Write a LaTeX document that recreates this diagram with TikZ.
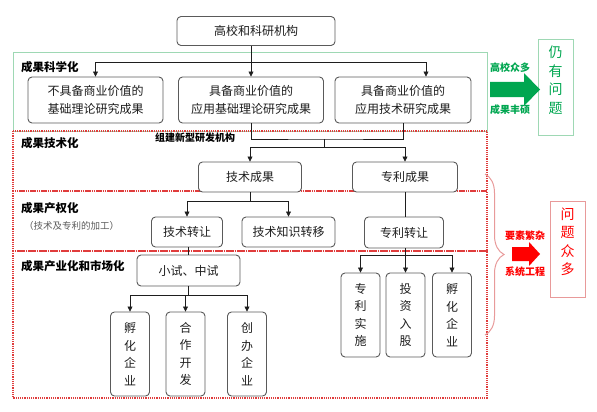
\documentclass[tikz,border=0pt]{standalone}
\usepackage{fontspec}
\setmainfont{Noto Sans CJK SC}
\usetikzlibrary{arrows.meta,decorations.pathreplacing}
\definecolor{ink}{HTML}{1E1E1E}
\definecolor{frame}{HTML}{5A5A5A}
\definecolor{leaf}{HTML}{00A650}
\definecolor{mint}{HTML}{9ED8B4}
\definecolor{alarm}{HTML}{FF0000}
\definecolor{rose}{HTML}{E89A9A}
\definecolor{dotred}{HTML}{E03C3C}
\tikzset{box/.style={draw=frame,line width=.9pt,rounded corners=4pt,fill=white,align=center,text=ink,font=\fontsize{12}{18}\selectfont,inner sep=0pt},colbox/.style={box,font=\fontsize{12}{17.5}\selectfont,minimum width=39pt,minimum height=84pt},sidebox/.style={line width=.9pt,align=center,minimum width=35pt,minimum height=96pt,font=\fontsize{14}{18.5}\selectfont,text depth=16pt},arr/.style={-{Triangle[length=5pt,width=5pt]},line width=.7pt,draw=ink},link/.style={line width=.7pt,draw=ink},zone/.style={draw=dotred,densely dotted,line width=1.2pt},tag/.style={anchor=west,font=\bfseries\fontsize{11.5}{13}\selectfont,inner sep=0pt},note/.style={font=\bfseries\fontsize{10}{12}\selectfont,inner sep=0pt}}

\begin{document}
\begin{tikzpicture}[x=1pt,y=-1pt]
\useasboundingbox (0,0) rectangle (597,412);
% stages
\draw[mint,line width=.9pt] (13,52) rectangle (487,131);
\foreach \a/\b in {131/191,191/251,251/398}{\draw[zone] (13,\a) rectangle (487,\b);}
\node[tag] (l1) at (21,67) {成果科学化};
\node[tag] (l2) at (21,143) {成果技术化};
\node[tag] (l3) at (21,208) {成果产权化};
\node[anchor=west,inner sep=0pt,text=frame,font=\fontsize{9.5}{11}\selectfont] (l3b) at (24,226) {（技术及专利的加工）};
\node[tag] (l4) at (21,266) {成果产业化和市场化};
% boxes
\node[box,minimum width=158pt,minimum height=29pt] (src) at (256,31) {高校和科研机构};
\node[box,minimum width=135pt,minimum height=46pt] (b1) at (95.5,100) {不具备商业价值的\\基础理论研究成果};
\node[box,minimum width=145pt,minimum height=46pt] (b2) at (251,100) {具备商业价值的\\应用基础理论研究成果};
\node[box,minimum width=136pt,minimum height=46pt] (b3) at (403,100) {具备商业价值的\\应用技术研究成果};
\node[box,minimum width=103pt,minimum height=30pt] (t1) at (250,177) {技术成果};
\node[box,minimum width=105pt,minimum height=30pt] (t2) at (405,177) {专利成果};
\node[box,minimum width=71pt,minimum height=30pt] (p1) at (187,232) {技术转让};
\node[box,minimum width=93pt,minimum height=30pt] (p2) at (288.5,232) {技术知识转移};
\node[box,minimum width=79pt,minimum height=31pt] (p3) at (404,232.5) {专利转让};
\node[box,minimum width=103pt,minimum height=31pt] (m0) at (188.5,270.5) {小试、中试};
\foreach \n/\x/\y/\t in {m1/130/354/{孵\\化\\企\\业},m2/185.5/354/{合\\作\\开\\发},m3/247/354/{创\\办\\企\\业},n1/360.5/315/{专\\利\\实\\施},n2/405.5/315/{投\\资\\入\\股},n3/452/315/{孵\\化\\企\\业}}
 {\node[colbox] (\n) at (\x,\y) {\t};}
\node[note] (mid) at (195,138) {组建新型研发机构};
% connectors
\coordinate (f1) at (251,62);
\draw[arr] (src.south -| b2) -- (b2);
\draw[arr] (f1) -| (b1);
\draw[arr] (f1) -| ([xshift=23pt]b3.north);
\coordinate (j1) at (324,139);
\coordinate (j2) at (324,147);
\draw[link] (b2) |- (j1) -| (b3);
\draw[link] (j1) -- (j2);
\draw[arr] (j2) -| (t1);
\draw[arr] (j2) -| (t2);
\coordinate (j3) at (250,201);
\draw[link] (t1) -- (j3);
\draw[arr] (j3) -| (p1);
\draw[arr] (j3) -| (p2);
\draw[link] (t2.south) -- (t2.south |- p3.north);
\draw[link] (p1.south -| m0.north) -- (m0.north);
\coordinate (j4) at (188.5,295);
\draw[link] (m0) -- (j4);
\foreach \n in {m1,m2,m3}{\draw[arr] (j4) -| (\n);}
\coordinate (j5) at (405.5,255);
\draw[link] (p3.south -| j5) -- (j5);
\foreach \n in {n1,n2,n3}{\draw[arr] (j5) -| (\n);}
% outcome side
\node[sidebox,draw=mint,text=leaf] (still) at (555.5,87.5) {仍\\有\\问\\题};
\fill[leaf] (490,82) -- (524,82) -- (524,73) -- (540,89.5) -- (524,106) -- (524,97) -- (490,97) -- cycle;
\node[note,text=leaf] (g1) at (510,68) {高校众多};
\node[note,text=leaf] (g2) at (510,110) {成果丰硕};
\draw[rose,line width=1pt,decorate,decoration={brace,amplitude=19pt}] (485,174) -- (485,335);
\node[sidebox,draw=rose,text=alarm] (many) at (567.5,249) {问\\题\\众\\多};
\fill[alarm] (512,247) -- (529,247) -- (529,242) -- (540,254) -- (529,266) -- (529,261) -- (512,261) -- cycle;
\node[note,text=alarm] (r1) at (525,236) {要素繁杂};
\node[note,text=alarm] (r2) at (525,272) {系统工程};
\end{tikzpicture}
\end{document}
